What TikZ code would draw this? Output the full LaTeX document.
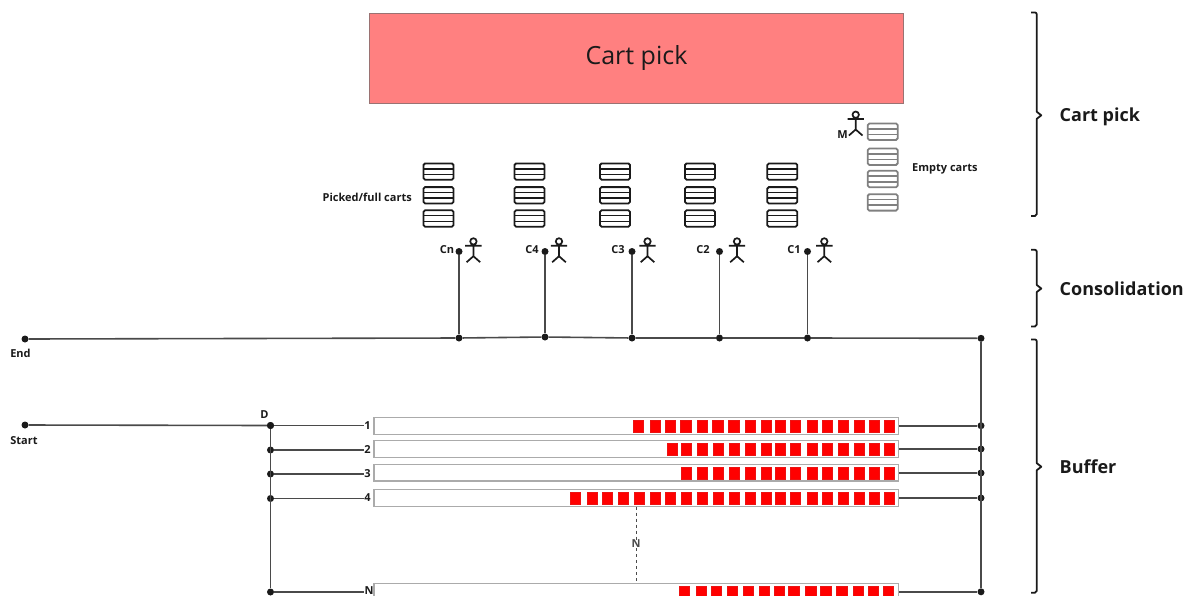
\documentclass[tikz,border=0pt]{standalone}
\usepackage{fontspec}
\setmainfont{Open Sans}
\definecolor{pickred}{HTML}{FF8080}
\definecolor{pickedge}{HTML}{9A7272}
\definecolor{linegrey}{HTML}{4A4A4A}
\definecolor{slotgrey}{HTML}{ABABAB}
\definecolor{cartgrey}{HTML}{808080}
\definecolor{inkdark}{HTML}{1A1A1A}
\tikzset{
  dot/.style={circle,fill=inkdark,inner sep=0pt,minimum size=7pt},
  wire/.style={linegrey,line width=1.6pt},
  slot/.style={draw=slotgrey,fill=white,line width=1.2pt,inner sep=0pt,minimum width=524.5pt,minimum height=16.8pt},
  tag/.style={font=\fontsize{11}{13}\selectfont\bfseries,text=inkdark,inner sep=0pt},
  stage/.style={font=\fontsize{18}{22}\selectfont\bfseries,text=inkdark,inner sep=0pt,anchor=west},
  cart/.pic={
    \draw[line width=1.8pt,rounded corners=1.6pt] (-15,-8.2) rectangle (15,8.2);
    \draw[line width=1.5pt] (-15,-2.8) -- (15,-2.8) (-15,2.8) -- (15,2.8);
  },
  actor/.pic={
    \draw[line width=1.7pt,inkdark] (0,-4.3) circle (3.2) (0,-1.1) -- (0,10.5)
      (-8.2,0) -- (8.2,0) (-6.8,16.5) -- (0,10.5) -- (6.8,16.5);
  }
}
\begin{document}
\begin{tikzpicture}[x=1pt,y=-1pt]
  \clip (0,0) rectangle (1191,595);
  % cart pick area
  \node[draw=pickedge,fill=pickred,line width=1pt,minimum width=534pt,minimum height=90pt,inner sep=0pt] (pick) at (636.5,58) {};
  \node[font=\fontsize{25}{29}\selectfont,text=inkdark,inner sep=0pt] (picktext) at (636.5,58) {Cart pick};
  %
  \foreach \x in {438.5,529.5,615,700,782.3}
    {\foreach \y in {171.6,195.3,218.5}
       {\pic[inkdark] at (\x,\y) {cart};}}
  \foreach \y in {131.7,156.7,179,202.4}
    {\pic[cartgrey] at (882.7,\y) {cart};}
  \node[tag,anchor=east] (picked) at (412,197) {Picked/full carts};
  \node[tag,anchor=west] (empty) at (912,168.5) {Empty carts};
  \pic at (855.7,119) {actor};
  \node[tag] (m) at (842.5,135) {M};
  % consolidation stations
  \node[dot] (endpt) at (25,339) {};
  \node[dot] (busr) at (981,338.3) {};
  \foreach \name/\x/\y/\txt/\lx/\fx in {cn/459/338/Cn/447/473.4,c4/545/337/C4/532/559,c3/632/338/C3/618/647.5,
                                       c2/719.5/338/C2/703/737,c1/807.5/338/C1/794/824.3}
    {\node[dot] (\name top) at (\x,251.5) {};
     \node[dot] (\name bot) at (\x,\y) {};
     \draw[wire] (\name top) -- (\name bot);
     \node[tag] (\name lab) at (\lx,250) {\txt};
     \pic at (\fx,245.7) {actor};}
  \draw[wire] (endpt) -- (cnbot) -- (c4bot) -- (c3bot) -- (c2bot) -- (c1bot) -- (busr);
  \node[tag] (endlab) at (20.5,353) {End};
  % buffer lanes
  \node[dot] (startpt) at (25,425) {};
  \node[tag] (startlab) at (24,441) {Start};
  \node[dot] (d1) at (270.5,425.5) {};
  \node[tag] (dlab) at (264.5,415) {D};
  \draw[wire] (startpt) -- (d1);
  \foreach \n/\yslot/\yd/\yr/\lx/\ly in {1/425.7/425.5/425.7/367.5/425.5,2/449/450/449/367.5/449.5,3/472.5/474/473/367.5/473.5,
                                     4/497.7/498.5/498/367.5/498,N/592/592/591.8/369/590.5}
    {\node[slot] (slot\n) at (636.3,\yslot) {};
     \node[tag] (lab\n) at (\lx,\ly) {\n};
     \node[dot] (r\n) at (981,\yr) {};
     \node[dot] (d\n) at (270.5,\yd) {};
     \draw[wire] (d\n) -- (lab\n.west |- d\n);
     \draw[wire] (slot\n.east |- r\n) -- (r\n);}
  \draw[wire] (d1) -- (dN);
  \draw[wire] (busr) -- (rN);
  % stored pallets
  \tikzset{box/.style={fill=red,draw=red!85!gray,line width=.4pt}}
  \foreach \x in {633,649.7,664.7,680.5,697,712.5,728.5,745,761,775,790,807,822,838,854,869,884}
    {\draw[box] (\x,420) rectangle +(10.3,11.7);}
  \foreach \x in {667.3,680.7,697,712.7,728.7,745,761,775.3,790,807,822,838,854,869,884.3}
    {\draw[box] (\x,443.3) rectangle +(10.3,11.7);}
  \foreach \x in {680.7,697,712.7,728.7,745,761,775.3,790,807,822,838,854,869,884.3}
    {\draw[box] (\x,467.3) rectangle +(10.3,11.7);}
  \foreach \x in {570,586.7,602,618,634,650,664.7,680.7,697,712.7,728.7,745,761,775.3,790,807,822,838,854,869,884.3}
    {\draw[box] (\x,492.3) rectangle +(10.3,11.7);}
  \foreach \x in {679,696,711,727,743,759,774,788.5,805.5,820.5,836.5,853,868,883}
    {\draw[box] (\x,586) rectangle +(10.3,11.7);}
  % more lanes
  \node[tag,text=linegrey] (nlab) at (636,544) {N};
  \draw[linegrey,dashed,line width=1pt] (slot4.south -| nlab) -- (nlab.north);
  \draw[linegrey,dashed,line width=1pt] (nlab.south) -- (slotN.north -| nlab);
  % stage braces
  \foreach \ya/\yb/\yc/\ytxt/\name/\txt in {12.5/115.3/216/117/pickstage/Cart pick,249.8/288.5/326.5/288.5/consstage/Consolidation,
                                     339.5/466.7/592.7/466.7/bufstage/Buffer}
    {\draw[inkdark,line width=1.8pt,line join=round]
       (1031,\ya) -- (1035,\ya) to[out=0,in=90] (1036.8,\ya+2) -- (1036.8,\yb-3.5)
       -- (1041.3,\yb) -- (1036.8,\yb+3.5) -- (1036.8,\yc-2) to[out=90,in=0] (1035,\yc) -- (1031,\yc);
     \node[stage] (\name) at (1059.5,\ytxt) {\txt};}
\end{tikzpicture}
\end{document}
